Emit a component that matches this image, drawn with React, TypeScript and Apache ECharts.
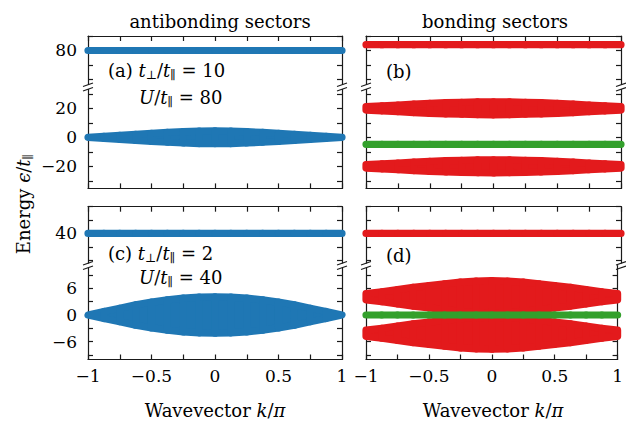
import React, { useEffect, useRef } from "react";
import * as echarts from "echarts";

// ---------- data ----------
const K = [-1, -0.875, -0.75, -0.625, -0.5, -0.375, -0.25, -0.125, 0, 0.125, 0.25, 0.375, 0.5, 0.625, 0.75, 0.875, 1];

// (a) antibonding, t_perp/t = 10, U/t = 80
const A_TOP = [80, 80, 80, 80, 80, 80, 80, 80, 80, 80, 80, 80, 80, 80, 80, 80, 80];
const A_BAND_UP = [0, 0.7, 1.4, 2.1, 2.8, 3.4, 3.9, 4.3, 4.4, 4.3, 3.9, 3.4, 2.8, 2.1, 1.4, 0.7, 0];
const A_BAND_LO = [0, -0.7, -1.4, -2.1, -2.8, -3.4, -3.9, -4.3, -4.4, -4.3, -3.9, -3.4, -2.8, -2.1, -1.4, -0.7, 0];

// (b) bonding
const B_TOP = [84, 84, 84, 84, 84, 84, 84, 84, 84, 84, 84, 84, 84, 84, 84, 84, 84];
const B_UPPER_UP = [21.2, 21.7, 22.3, 22.9, 23.5, 23.9, 24.1, 24.4, 24.5, 24.4, 24.1, 23.9, 23.5, 22.9, 22.3, 21.7, 21.2];
const B_UPPER_LO = [18.8, 18.3, 17.7, 17.1, 16.5, 16.1, 15.9, 15.6, 15.5, 15.6, 15.9, 16.1, 16.5, 17.1, 17.7, 18.3, 18.8];
const B_GREEN = [-4.8, -4.8, -4.8, -4.8, -4.8, -4.8, -4.8, -4.8, -4.8, -4.8, -4.8, -4.8, -4.8, -4.8, -4.8, -4.8, -4.8];
const B_LOWER_UP = [-18.8, -18.3, -17.7, -17.1, -16.5, -16.1, -15.9, -15.6, -15.5, -15.6, -15.9, -16.1, -16.5, -17.1, -17.7, -18.3, -18.8];
const B_LOWER_LO = [-21.2, -21.7, -22.3, -22.9, -23.5, -23.9, -24.1, -24.4, -24.5, -24.4, -24.1, -23.9, -23.5, -22.9, -22.3, -21.7, -21.2];

// (c) antibonding, t_perp/t = 2, U/t = 40
const C_TOP = [40, 40, 40, 40, 40, 40, 40, 40, 40, 40, 40, 40, 40, 40, 40, 40, 40];
const C_BAND_UP = [0, 0.8, 1.5, 2.3, 2.9, 3.4, 3.8, 4.0, 4.1, 4.0, 3.8, 3.4, 2.9, 2.3, 1.5, 0.8, 0];
const C_BAND_LO = [0, -0.8, -1.5, -2.3, -2.9, -3.4, -3.8, -4.0, -4.1, -4.0, -3.8, -3.4, -2.9, -2.3, -1.5, -0.8, 0];

// (d) bonding
const D_TOP = [40, 40, 40, 40, 40, 40, 40, 40, 40, 40, 40, 40, 40, 40, 40, 40, 40];
const D_UPPER_UP = [4.8, 5.2, 5.7, 6.2, 6.6, 7.0, 7.4, 7.6, 7.7, 7.6, 7.4, 7.0, 6.6, 6.2, 5.7, 5.2, 4.8];
const D_UPPER_LO = [3.4, 3.0, 2.5, 2.0, 1.6, 1.2, 0.8, 0.6, 0.5, 0.6, 0.8, 1.2, 1.6, 2.0, 2.5, 3.0, 3.4];
const D_GREEN = [0, 0, 0, 0, 0, 0, 0, 0, 0, 0, 0, 0, 0, 0, 0, 0, 0];
const D_LOWER_UP = [-3.4, -3.0, -2.5, -2.0, -1.6, -1.2, -0.8, -0.6, -0.5, -0.6, -0.8, -1.2, -1.6, -2.0, -2.5, -3.0, -3.4];
const D_LOWER_LO = [-4.8, -5.2, -5.7, -6.2, -6.6, -7.0, -7.4, -7.6, -7.7, -7.6, -7.4, -7.0, -6.6, -6.2, -5.7, -5.2, -4.8];

// ---------- axes ----------
const X_LABELS = [-1, -0.5, 0, 0.5, 1];
const TOP_UPPER_RANGE = [54.8, 90];
const TOP_UPPER_TICKS = [60, 70, 80, 90];
const TOP_UPPER_LABELS = [80];
const TOP_LOWER_RANGE = [-35.2, 34.7];
const TOP_LOWER_TICKS = [-30, -20, -10, 0, 10, 20, 30];
const TOP_LOWER_LABELS = [-20, 0, 20];
const BOT_UPPER_RANGE = [32.8, 46];
const BOT_UPPER_TICKS = [34, 37, 40, 43, 46];
const BOT_UPPER_LABELS = [40];
const BOT_LOWER_RANGE = [-10, 11.12];
const BOT_LOWER_TICKS = [-9, -6, -3, 0, 3, 6, 9];
const BOT_LOWER_LABELS = [-6, 0, 6];

const BLUE = "#1f77b4";
const RED = "#e31a1c";
const GREEN = "#33a02c";
const FONT = "DejaVu Serif";
const AXIS_COLOR = "#1a1a1a";
const DOT = 7.2;

// layout
const COLS = [
  { left: 88, width: 254 },
  { left: 366, width: 255 },
];
const ROWS = [
  { top: 36, brk: 87, bottom: 188.4 },
  { top: 206.7, brk: 265.5, bottom: 359.5 },
];

const fmt = (v: number) => String(v).replace("-", "\u2212");

function buildOption() {
  const grid: any[] = [];
  const xAxis: any[] = [];
  const yAxis: any[] = [];
  const ranges = [
    [
      { range: TOP_UPPER_RANGE, ticks: TOP_UPPER_TICKS, labels: TOP_UPPER_LABELS },
      { range: TOP_LOWER_RANGE, ticks: TOP_LOWER_TICKS, labels: TOP_LOWER_LABELS },
    ],
    [
      { range: BOT_UPPER_RANGE, ticks: BOT_UPPER_TICKS, labels: BOT_UPPER_LABELS },
      { range: BOT_LOWER_RANGE, ticks: BOT_LOWER_TICKS, labels: BOT_LOWER_LABELS },
    ],
  ];
  const lineStyle = { color: AXIS_COLOR, width: 1.2 };
  // grid order: (a) up, (a) low, (b) up, (b) low, (c) up, (c) low, (d) up, (d) low
  for (let r = 0; r < 2; r++) {
    for (let c = 0; c < 2; c++) {
      for (let part = 0; part < 2; part++) {
        const row = ROWS[r];
        const col = COLS[c];
        const top = part === 0 ? row.top : row.brk;
        const bottom = part === 0 ? row.brk : row.bottom;
        const g = grid.length;
        grid.push({ left: col.left, width: col.width, top, height: bottom - top });
        xAxis.push({
          type: "value",
          gridIndex: g,
          min: -1,
          max: 1,
          interval: 0.25,
          position: part === 0 ? "top" : "bottom",
          axisLine: { show: true, onZero: false, lineStyle },
          axisTick: { show: true, inside: true, length: 5, lineStyle },
          splitLine: { show: false },
          axisLabel: {
            show: part === 1 && r === 1,
            customValues: X_LABELS,
            formatter: fmt,
            fontFamily: FONT,
            fontSize: 17,
            color: "#000",
            margin: 8,
          },
        });
        const rg = ranges[r][part];
        for (let side = 0; side < 2; side++) {
          yAxis.push({
            type: "value",
            gridIndex: g,
            min: rg.range[0],
            max: rg.range[1],
            position: side === 0 ? "left" : "right",
            axisLine: { show: true, onZero: false, lineStyle },
            axisTick: { show: true, inside: true, length: 5, lineStyle, customValues: rg.ticks },
            splitLine: { show: false },
            axisLabel: {
              show: side === 0 && c === 0,
              customValues: rg.labels,
              formatter: fmt,
              fontFamily: FONT,
              fontSize: 17,
              color: "#000",
              margin: 11,
            },
          });
        }
      }
    }
  }

  const band = (g: number, up: number[], lo: number[], color: string, z: number) => {
    const data: number[][] = [];
    for (let i = 0; i < K.length - 1; i++) data.push([K[i], up[i], lo[i], K[i + 1], up[i + 1], lo[i + 1]]);
    return {
      type: "custom",
      xAxisIndex: g,
      yAxisIndex: g * 2,
      data,
      clip: false,
      z,
      encode: { x: [0, 3], y: [1, 2, 4, 5] },
      renderItem: (_p: any, api: any) => {
        const p1 = api.coord([api.value(0), api.value(1)]);
        const p2 = api.coord([api.value(3), api.value(4)]);
        const p3 = api.coord([api.value(3), api.value(5)]);
        const p4 = api.coord([api.value(0), api.value(2)]);
        return {
          type: "polygon",
          shape: { points: [p1, p2, p3, p4] },
          style: { fill: color, stroke: color, lineWidth: DOT, lineJoin: "round", lineCap: "round" },
        };
      },
    };
  };

  const series = [
    band(0, A_TOP, A_TOP, BLUE, 2),
    band(1, A_BAND_UP, A_BAND_LO, BLUE, 2),
    band(2, B_TOP, B_TOP, RED, 2),
    band(3, B_UPPER_UP, B_UPPER_LO, RED, 2),
    band(3, B_LOWER_UP, B_LOWER_LO, RED, 2),
    band(3, B_GREEN, B_GREEN, GREEN, 3),
    band(4, C_TOP, C_TOP, BLUE, 2),
    band(5, C_BAND_UP, C_BAND_LO, BLUE, 2),
    band(6, D_TOP, D_TOP, RED, 2),
    band(7, D_UPPER_UP, D_UPPER_LO, RED, 2),
    band(7, D_LOWER_UP, D_LOWER_LO, RED, 2),
    band(7, D_GREEN, D_GREEN, GREEN, 3),
  ];

  const rich = {
    r: { fontFamily: FONT, fontSize: 18, fill: "#000", lineHeight: 22 },
    i: { fontFamily: FONT, fontSize: 18, fontStyle: "italic", fill: "#000", lineHeight: 22 },
    s: { fontFamily: FONT, fontSize: 12, fill: "#000", lineHeight: 10, verticalAlign: "bottom" },
  };
  const txt = (x: number, y: number, text: string, align = "left", rotation = 0) => ({
    type: "text",
    x,
    y,
    rotation,
    z: 10,
    style: { text, rich, align, verticalAlign: "middle", fontFamily: FONT, fontSize: 18, fill: "#000" },
  });

  const graphic: any[] = [
    txt(220, 21, "{r|antibonding sectors}", "center"),
    txt(495, 21, "{r|bonding sectors}", "center"),
    txt(215, 410, "{r|Wavevector }{i|k}{r|/}{i|\u03c0}", "center"),
    txt(493, 410, "{r|Wavevector }{i|k}{r|/}{i|\u03c0}", "center"),
    txt(23, 204, "{r|Energy }{i|\u03f5}{r|/}{i|t}{s|\u2225}", "center", Math.PI / 2),
    txt(108, 70, "{r|(a) }{i|t}{s|\u22a5}{r|/}{i|t}{s|\u2225}{r| = 10}"),
    txt(139, 97, "{i|U}{r|/}{i|t}{s|\u2225}{r| = 80}"),
    txt(386, 71, "{r|(b)}"),
    txt(108, 253, "{r|(c) }{i|t}{s|\u22a5}{r|/}{i|t}{s|\u2225}{r| = 2}"),
    txt(139, 277, "{i|U}{r|/}{i|t}{s|\u2225}{r| = 40}"),
    txt(386, 255, "{r|(d)}"),
  ];
  // axis-break marks
  for (const row of ROWS) {
    for (const col of COLS) {
      for (const ax of [col.left, col.left + col.width]) {
        const b = row.brk;
        graphic.push({
          type: "rect",
          z: 20,
          shape: { x: ax - 2, y: b - 2, width: 4, height: 4 },
          style: { fill: "#fff" },
        });
        graphic.push({
          type: "line",
          z: 21,
          shape: { x1: ax - 5, y1: b - 0.5, x2: ax + 5, y2: b - 4 },
          style: { stroke: AXIS_COLOR, lineWidth: 1.2 },
        });
        graphic.push({
          type: "line",
          z: 21,
          shape: { x1: ax - 5, y1: b + 4, x2: ax + 5, y2: b + 0.5 },
          style: { stroke: AXIS_COLOR, lineWidth: 1.2 },
        });
      }
    }
  }

  return { animation: false, backgroundColor: "#fff", grid, xAxis, yAxis, series, graphic };
}

export default function App() {
  const ref = useRef<HTMLDivElement>(null);
  useEffect(() => {
    document.body.style.margin = "0";
    if (!ref.current) return;
    const chart = echarts.init(ref.current, null, { renderer: "svg" });
    chart.setOption(buildOption() as any);
    return () => chart.dispose();
  }, []);
  return <div ref={ref} style={{ width: 626, height: 422 }} />;
}
